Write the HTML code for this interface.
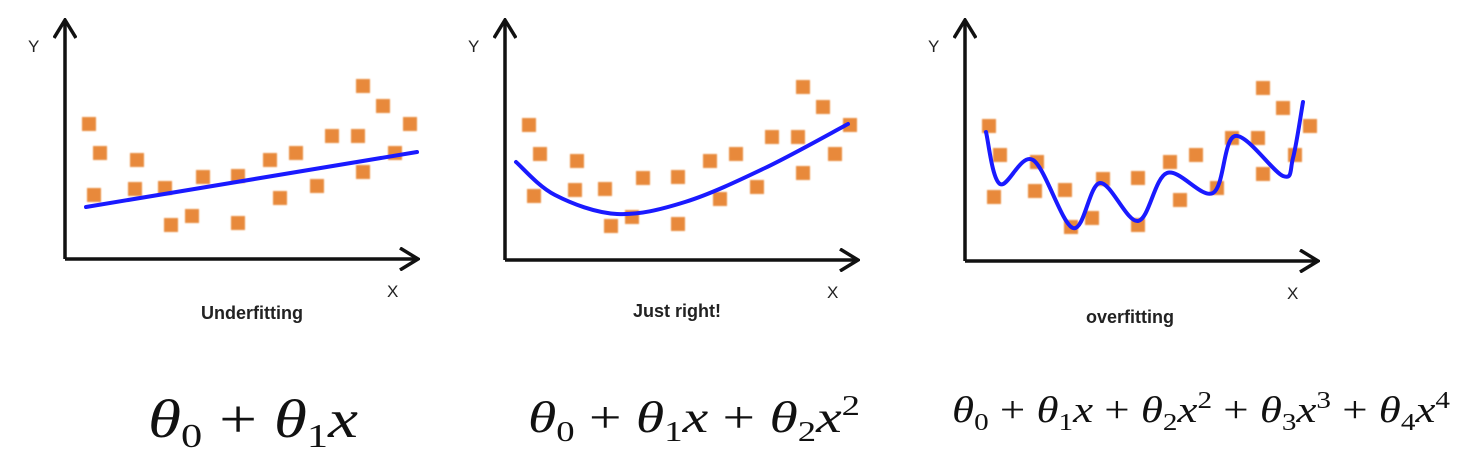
<!DOCTYPE html>
<html><head><meta charset="utf-8"><style>
html,body{margin:0;padding:0;background:#fff;width:1470px;height:464px;overflow:hidden}
svg{display:block}
.lbl{font-family:"Liberation Sans",sans-serif;font-size:17px;fill:#222}
.ttl{font-family:"Liberation Sans",sans-serif;font-size:18px;font-weight:bold;fill:#222}
.f{font-family:"Liberation Serif",serif;font-style:italic;fill:#111}
.n{font-style:normal}
</style></head><body>
<svg id="chart" width="1470" height="464" viewBox="0 0 1470 464">
<defs>
<filter id="blur" x="-20%" y="-20%" width="140%" height="140%"><feGaussianBlur stdDeviation="0.8"/></filter>
<marker id="arr" viewBox="0 0 22 24" refX="20" refY="12" markerWidth="22" markerHeight="24" markerUnits="userSpaceOnUse" orient="auto"><path d="M2,1 L20,12 L2,23" fill="none" stroke="#111" stroke-width="3.5"/></marker>
</defs>
<g id="panels"></g>
<text class="f" x="148" y="437" font-size="54" textLength="210" lengthAdjust="spacingAndGlyphs">θ<tspan class="n" font-size="34" dy="10">0</tspan><tspan class="n" dy="-10"> + </tspan>θ<tspan class="n" font-size="34" dy="10">1</tspan><tspan dy="-10">x</tspan></text>
<text class="f" x="528" y="432" font-size="44" textLength="332" lengthAdjust="spacingAndGlyphs">θ<tspan class="n" font-size="28" dy="9">0</tspan><tspan class="n" dy="-9"> + </tspan>θ<tspan class="n" font-size="28" dy="9">1</tspan><tspan dy="-9">x</tspan><tspan class="n"> + </tspan>θ<tspan class="n" font-size="28" dy="9">2</tspan><tspan dy="-9">x</tspan><tspan class="n" font-size="28" dy="-17">2</tspan></text>
<text class="f" x="952" y="422" font-size="37" textLength="498" lengthAdjust="spacingAndGlyphs">θ<tspan class="n" font-size="24" dy="8">0</tspan><tspan class="n" dy="-8"> + </tspan>θ<tspan class="n" font-size="24" dy="8">1</tspan><tspan dy="-8">x</tspan><tspan class="n"> + </tspan>θ<tspan class="n" font-size="24" dy="8">2</tspan><tspan dy="-8">x</tspan><tspan class="n" font-size="24" dy="-14">2</tspan><tspan class="n" dy="14"> + </tspan>θ<tspan class="n" font-size="24" dy="8">3</tspan><tspan dy="-8">x</tspan><tspan class="n" font-size="24" dy="-14">3</tspan><tspan class="n" dy="14"> + </tspan>θ<tspan class="n" font-size="24" dy="8">4</tspan><tspan dy="-8">x</tspan><tspan class="n" font-size="24" dy="-14">4</tspan></text>
</svg>
<script>
// shared scatter data (x, y units above/right of axis origin)
const pointX = [24,35,72,29,70,100,138,173,205,231,267,293,298,318,345,330,298,252,215,127,106,173];
const pointY = [135,106,99,64,70,71,82,83,99,106,123,123,173,153,135,106,87,73,61,43,34,36];
// underfit line: start/end x and y
const lineX = [21,352];
const lineY = [52,107];
// just-right curve knots
const quadX = [11,50,112,180,260,343];
const quadY = [98,65,46,58,92,136];
// overfit curve knots
const overX = [21,35,68,108,135,173,202,248,270,318,328,338];
const overY = [129,77,101,33,78,40,88,68,125,85,103,159];
const titles = ["Underfitting","Just right!","overfitting"];

const NS="http://www.w3.org/2000/svg";
const g=document.getElementById('panels');
const panels=[{ox:65,oy:259,xe:418,tx:252,ty:319},{ox:505,oy:260,xe:858,tx:677,ty:317},{ox:965,oy:261,xe:1318,tx:1130,ty:323}];
function mk(t,a,p){const e=document.createElementNS(NS,t);for(const k in a)e.setAttribute(k,a[k]);(p||g).appendChild(e);return e;}
function smooth(pts){let d=`M${pts[0][0]},${pts[0][1]}`;for(let i=0;i<pts.length-1;i++){const p0=pts[i-1]||pts[i],p1=pts[i],p2=pts[i+1],p3=pts[i+2]||p2;
d+=` C${p1[0]+(p2[0]-p0[0])/6},${p1[1]+(p2[1]-p0[1])/6} ${p2[0]-(p3[0]-p1[0])/6},${p2[1]-(p3[1]-p1[1])/6} ${p2[0]},${p2[1]}`;}return d;}
panels.forEach((P,pi)=>{
  const sx=v=>P.ox+v, sy=v=>P.oy-v;
  const pg=mk('g',{});
  
  
  const ya=mk('line',{x1:P.ox,y1:P.oy,x2:P.ox,y2:20,stroke:'#111','stroke-width':3.5,'marker-end':'url(#arr)'},pg);
  
  
  const xa=mk('line',{x1:P.ox,y1:P.oy,x2:P.xe,y2:P.oy,stroke:'#111','stroke-width':3.5,'marker-end':'url(#arr)'},pg);
  
  
  const yl=mk('text',{x:P.ox-37,y:52,class:'lbl'},pg);yl.textContent='Y';
  
  
  const xl=mk('text',{x:P.xe-31,y:P.oy+38,class:'lbl'},pg);xl.textContent='X';
  
  
  const tt=mk('text',{x:P.tx,y:P.ty,class:'ttl','text-anchor':'middle'},pg);tt.textContent=titles[pi];
  
  
  pointX.forEach((x,i)=>{
    const r=mk('rect',{x:sx(x)-7,y:sy(pointY[i])-7,width:14,height:14,fill:'#e8893a',filter:'url(#blur)'},pg);
    
    
  });
  let d;
  if(pi===0) d=`M${sx(lineX[0])},${sy(lineY[0])} L${sx(lineX[1])},${sy(lineY[1])}`;
  else if(pi===1) d=smooth(quadX.map((x,i)=>[sx(x),sy(quadY[i])]));
  else d=smooth(overX.map((x,i)=>[sx(x),sy(overY[i])]));
  const c=mk('path',{d:d,fill:'none',stroke:'#1a1aff','stroke-width':4,'stroke-linecap':'round'},pg);
  
  
});
</script>
</body></html>
